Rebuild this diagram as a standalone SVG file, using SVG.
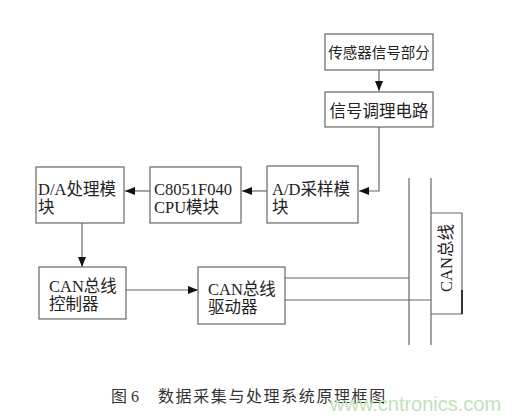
<svg xmlns="http://www.w3.org/2000/svg" width="514" height="419" viewBox="0 0 514 419">
<defs>
<style>
.box{fill:#fff;stroke:#666;stroke-width:1.2}
.ln{fill:none;stroke:#666;stroke-width:1.2}
.t{font-family:"Liberation Serif","Noto Sans CJK SC",serif;font-size:16.5px;fill:#222}
.cap{font-family:"Liberation Serif","Noto Sans CJK SC",serif;font-size:16px;fill:#333}
</style>
<marker id="ah" viewBox="0 0 10 8" refX="10" refY="4" markerWidth="10" markerHeight="8" markerUnits="userSpaceOnUse" orient="auto">
<path d="M0,0 L10,4 L0,8 Z" fill="#111"/>
</marker>
</defs>
<rect width="514" height="419" fill="#fff"/>
<g id="connectors">
<line class="ln" x1="379" y1="70" x2="379" y2="91" marker-end="url(#ah)"/>
<polyline class="ln" points="379,127 379,191 359,191" marker-end="url(#ah)"/>
<line class="ln" x1="267" y1="191" x2="242" y2="191" marker-end="url(#ah)"/>
<line class="ln" x1="150" y1="191" x2="125" y2="191" marker-end="url(#ah)"/>
<line class="ln" x1="82" y1="223" x2="82" y2="267" marker-end="url(#ah)"/>
<line class="ln" x1="126" y1="290" x2="198" y2="290" marker-end="url(#ah)"/>
<line class="ln" x1="285" y1="278" x2="409" y2="278"/>
<line class="ln" x1="285" y1="300" x2="431" y2="300"/>
<line class="ln" x1="409" y1="178" x2="409" y2="345"/>
<line class="ln" x1="431" y1="178" x2="431" y2="345"/>
</g>
<g id="sensor">
<rect class="box" x="325" y="34" width="108" height="36"/>
<text class="t" x="379" y="58" text-anchor="middle" style="font-size:14.5px">传感器信号部分</text>
</g>
<g id="conditioning">
<rect class="box" x="325" y="92" width="108" height="35"/>
<text class="t" x="379" y="117" text-anchor="middle">信号调理电路</text>
</g>
<g id="ad">
<rect class="box" x="267" y="166" width="91" height="57"/>
<text class="t" x="272" y="195">A/D采样模</text>
<text class="t" x="272" y="213">块</text>
</g>
<g id="cpu">
<rect class="box" x="150" y="167" width="91" height="56"/>
<text class="t" x="154" y="195">C8051F040</text>
<text class="t" x="154" y="213">CPU模块</text>
</g>
<g id="da">
<rect class="box" x="36" y="167" width="88" height="56"/>
<text class="t" x="38" y="195">D/A处理模</text>
<text class="t" x="38" y="213">块</text>
</g>
<g id="controller">
<rect class="box" x="39" y="267" width="87" height="52"/>
<text class="t" x="49" y="292">CAN总线</text>
<text class="t" x="49" y="310">控制器</text>
</g>
<g id="driver">
<rect class="box" x="198" y="267" width="87" height="57"/>
<text class="t" x="208" y="295">CAN总线</text>
<text class="t" x="208" y="313">驱动器</text>
</g>
<g id="canbus">
<polyline class="ln" points="431,213 462,213 462,314 431,314"/>
<line x1="462" y1="290" x2="462" y2="314" stroke="#333" stroke-width="2"/>
<text class="t" transform="translate(452,258) rotate(-90)" text-anchor="middle">CAN总线</text>
</g>
<g id="caption">
<text class="cap" x="111" y="402">图 6</text>
<text class="cap" x="158" y="402" style="letter-spacing:1.6px">数据采集与处理系统原理框图</text>
</g>
<text x="330" y="411" style="font-family:'Liberation Sans',Arial,sans-serif;font-size:20px;fill:#bfe3b8">www.cntronics.com</text>
</svg>
